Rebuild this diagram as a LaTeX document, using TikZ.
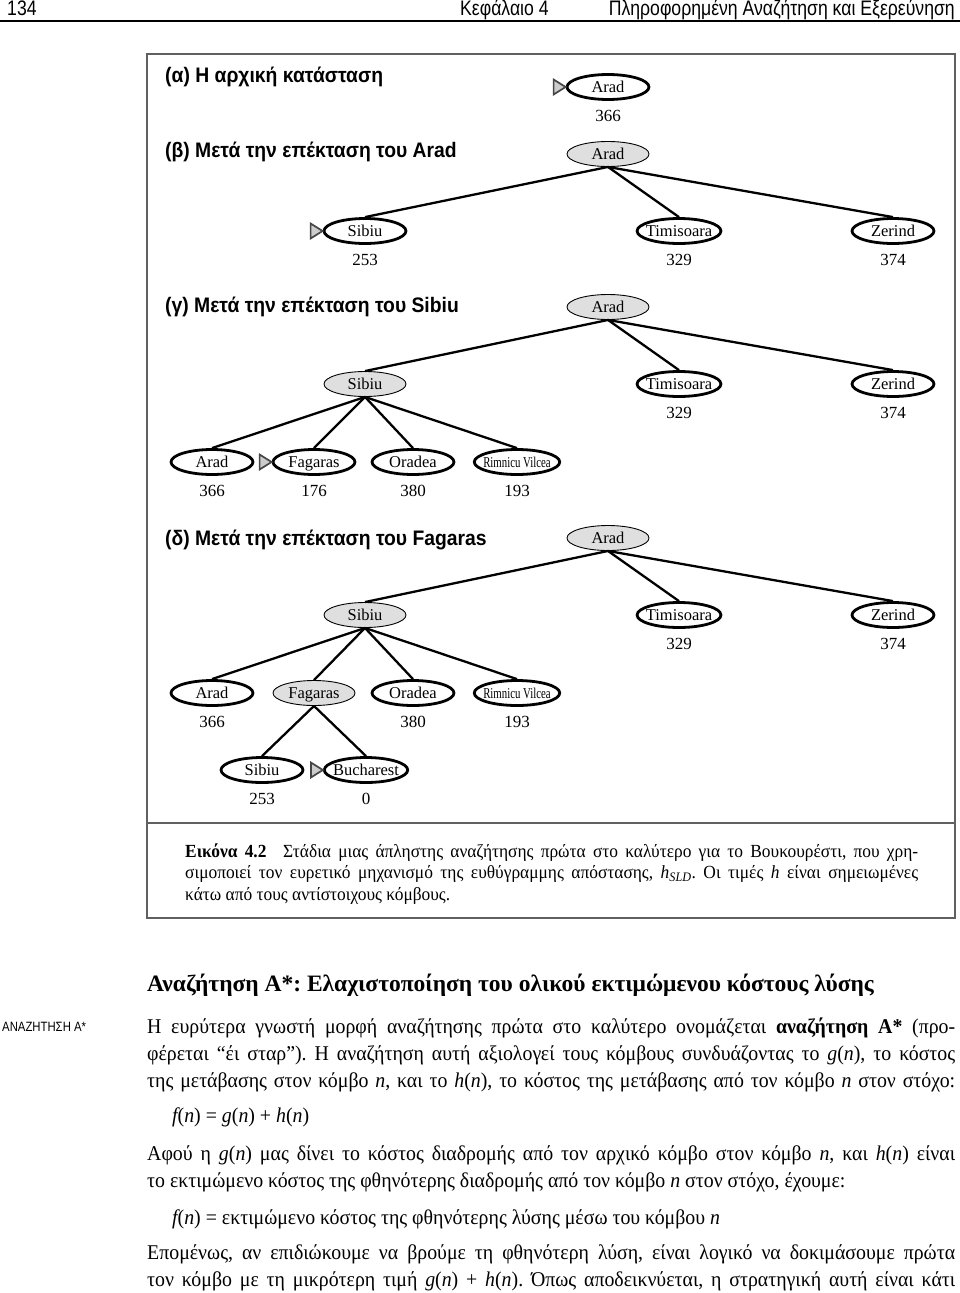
\documentclass[tikz,border=0pt]{standalone}
\usepackage{fontspec}
\setmainfont{Liberation Serif}
\newfontfamily\headfont[FakeStretch=0.84]{Liberation Sans}
\newfontfamily\titlefont[FakeStretch=0.92]{Liberation Sans}
\newfontfamily\bodyfont[FakeStretch=0.945]{Liberation Serif}
\newfontfamily\capfont[FakeStretch=0.94]{Liberation Serif}
\newfontfamily\narrowfont[FakeStretch=0.72]{Liberation Serif}
\usetikzlibrary{shapes.geometric, positioning}
\frenchspacing

\tikzset{
  city/.style={ellipse, draw, line width=2.8pt, fill=white, minimum width=82pt,
    minimum height=25pt, inner xsep=-3.5pt, inner ysep=-3pt, text height=12pt, text depth=1pt,
    font=\fontsize{16.5}{16.5}\selectfont},
  expanded/.style={city, line width=0.9pt, fill=gray!25},
  smallname/.style={font=\narrowfont\fontsize{15}{15}\selectfont},
  hval/.style={font=\fontsize{17}{17}\selectfont, inner sep=3pt},
  every label/.style={hval},
  label distance=6pt,
  tree/.style={line width=2.3pt},
  marktri/.style={draw=gray!55!black, fill=gray!40, line width=1.7pt, line join=miter},
  frame/.style={draw=gray!75!black, line width=1.5pt},
  title/.style={anchor=base west, inner sep=0pt,
    font=\titlefont\bfseries\fontsize{21}{21}\selectfont},
  bodytext/.style={anchor=base west, inner sep=0pt, text width=808pt, align=justify,
    font=\bodyfont\fontsize{21}{27}\selectfont},
}

\begin{document}
\begin{tikzpicture}[x=1pt, y=-1pt]
  \useasboundingbox (0,0) rectangle (960,1293);

  % page head
  \node[anchor=base west, inner sep=0pt, font=\headfont\fontsize{21}{21}\selectfont] (pagenum) at (7,15) {134};
  \node[anchor=base west, inner sep=0pt, font=\headfont\fontsize{21}{21}\selectfont] (chapter) at (460,15) {Κεφάλαιο 4};
  \node[anchor=base east, inner sep=0pt, font=\headfont\fontsize{21}{21}\selectfont] (chaptitle) at (955,15) {Πληροφορημένη Αναζήτηση και Εξερεύνηση};
  \draw[line width=1.2pt] (0,21) -- (960,21);

  % figure frame
  \draw[frame] (147,54) rectangle (955,918);
  \draw[frame, line width=2.6pt] (147,823) -- (955,823);

  % (a)
  \node[title] (ta) at (165,82) {(α) Η αρχική κατάσταση};
  \node[city, label=below:366] (aArad) at (608,87) {Arad};
  \draw[marktri] (aArad.west) -- ++(-12,-7.5) -- ++(0,15) -- cycle;

  % (b)
  \node[title] (tb) at (165,157) {(β) Μετά την επέκταση του Arad};
  \node[expanded] (bArad) at (608,154) {Arad};
  \node[city, label=below:253] (bSib) at (365,231) {Sibiu};
  \node[city, label=below:329] (bTim) at (679,231) {Timisoara};
  \node[city, label=below:374] (bZer) at (893,231) {Zerind};
  \draw[tree] (bArad.south) -- (bSib.north);
  \draw[tree] (bArad.south) -- (bTim.north);
  \draw[tree] (bArad.south) -- (bZer.north);
  \draw[marktri] (bSib.west) -- ++(-12,-7.5) -- ++(0,15) -- cycle;

  % (c)
  \node[title] (tc) at (165,312) {(γ) Μετά την επέκταση του Sibiu};
  \node[expanded] (cArad) at (608,307) {Arad};
  \node[expanded] (cSib) at (365,384) {Sibiu};
  \node[city, label=below:329] (cTim) at (679,384) {Timisoara};
  \node[city, label=below:374] (cZer) at (893,384) {Zerind};
  \node[city, label=below:366] (cArad2) at (212,462) {Arad};
  \node[city, label=below:176] (cFag) at (314,462) {Fagaras};
  \node[city, label=below:380] (cOra) at (413,462) {Oradea};
  \node[city, smallname, label=below:193] (cRim) at (517,462) {Rimnicu Vilcea};
  \draw[tree] (cArad.south) -- (cSib.north);
  \draw[tree] (cArad.south) -- (cTim.north);
  \draw[tree] (cArad.south) -- (cZer.north);
  \draw[tree] (cSib.south) -- (cArad2.north);
  \draw[tree] (cSib.south) -- (cFag.north);
  \draw[tree] (cSib.south) -- (cOra.north);
  \draw[tree] (cSib.south) -- (cRim.north);
  \draw[marktri] (cFag.west) -- ++(-12,-7.5) -- ++(0,15) -- cycle;

  % (d)
  \node[title] (td) at (165,545) {(δ) Μετά την επέκταση του Fagaras};
  \node[expanded] (dArad) at (608,538) {Arad};
  \node[expanded] (dSib) at (365,615) {Sibiu};
  \node[city, label=below:329] (dTim) at (679,615) {Timisoara};
  \node[city, label=below:374] (dZer) at (893,615) {Zerind};
  \node[city, label=below:366] (dArad2) at (212,693) {Arad};
  \node[expanded] (dFag) at (314,693) {Fagaras};
  \node[city, label=below:380] (dOra) at (413,693) {Oradea};
  \node[city, smallname, label=below:193] (dRim) at (517,693) {Rimnicu Vilcea};
  \node[city, label=below:253] (dSib2) at (262,770) {Sibiu};
  \node[city, label=below:0] (dBuc) at (366,770) {Bucharest};
  \draw[tree] (dArad.south) -- (dSib.north);
  \draw[tree] (dArad.south) -- (dTim.north);
  \draw[tree] (dArad.south) -- (dZer.north);
  \draw[tree] (dSib.south) -- (dArad2.north);
  \draw[tree] (dSib.south) -- (dFag.north);
  \draw[tree] (dSib.south) -- (dOra.north);
  \draw[tree] (dSib.south) -- (dRim.north);
  \draw[tree] (dFag.south) -- (dSib2.north);
  \draw[tree] (dFag.south) -- (dBuc.north);
  \draw[marktri] (dBuc.west) -- ++(-12,-7.5) -- ++(0,15) -- cycle;

  % caption
  \node[anchor=base west, inner sep=0pt, text width=733pt, align=justify,
    font=\capfont\fontsize{18.5}{21.5}\selectfont] (caption) at (185,857)
    {\textbf{Εικόνα 4.2}\hspace{0.9em}Στάδια μιας άπληστης αναζήτησης πρώτα στο καλύτερο για το Βουκουρέστι, που χρη-\linebreak
     σιμοποιεί τον ευρετικό μηχανισμό της ευθύγραμμης απόστασης, {\itshape h}\textsubscript{\itshape SLD}. Οι τιμές {\itshape h} είναι σημειωμένες\linebreak
     κάτω από τους αντίστοιχους κόμβους.};

  % section text
  \node[anchor=base west, inner sep=0pt, font=\bfseries\fontsize{23.5}{23.5}\selectfont] (section) at (147,991)
    {Αναζήτηση A*: Ελαχιστοποίηση του ολικού εκτιμώμενου κόστους λύσης};
  \node[anchor=base west, inner sep=0pt, font=\headfont\fontsize{13.5}{13.5}\selectfont] (margin) at (2,1031) {ΑΝΑΖΗΤΗΣΗ A*};

  \node[bodytext] (par1) at (147,1033)
    {Η ευρύτερα γνωστή μορφή αναζήτησης πρώτα στο καλύτερο ονομάζεται \textbf{αναζήτηση A*} (προ-\linebreak
     φέρεται “έι σταρ”). Η αναζήτηση αυτή αξιολογεί τους κόμβους συνδυάζοντας το {\itshape g}({\itshape n}), το κόστος\linebreak
     της μετάβασης στον κόμβο {\itshape n}, και το {\itshape h}({\itshape n}), το κόστος της μετάβασης από τον κόμβο {\itshape n} στον στόχο:\linebreak};
  \node[anchor=base west, inner sep=0pt, font=\bodyfont\fontsize{21}{27}\selectfont] (eq1) at (172,1122)
    {{\itshape f}({\itshape n}) = {\itshape g}({\itshape n}) + {\itshape h}({\itshape n})};
  \node[bodytext] (par2) at (147,1160)
    {Αφού η {\itshape g}({\itshape n}) μας δίνει το κόστος διαδρομής από τον αρχικό κόμβο στον κόμβο {\itshape n}, και {\itshape h}({\itshape n}) είναι\linebreak
     το εκτιμώμενο κόστος της φθηνότερης διαδρομής από τον κόμβο {\itshape n} στον στόχο, έχουμε:};
  \node[anchor=base west, inner sep=0pt, font=\bodyfont\fontsize{21}{27}\selectfont] (eq2) at (172,1224)
    {{\itshape f}({\itshape n}) = εκτιμώμενο κόστος της φθηνότερης λύσης μέσω του κόμβου {\itshape n}};
  \node[bodytext] (par3) at (147,1259)
    {Επομένως, αν επιδιώκουμε να βρούμε τη φθηνότερη λύση, είναι λογικό να δοκιμάσουμε πρώτα\linebreak
     τον κόμβο με τη μικρότερη τιμή {\itshape g}({\itshape n}) + {\itshape h}({\itshape n}). Όπως αποδεικνύεται, η στρατηγική αυτή είναι κάτι\linebreak};
\end{tikzpicture}
\end{document}
